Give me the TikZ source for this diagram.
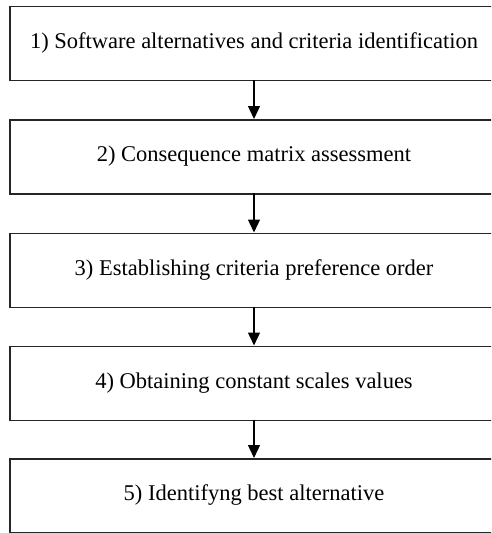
\documentclass[tikz,border=0pt]{standalone}
\usepackage{fontspec}
\setmainfont{Liberation Serif}
\usetikzlibrary{arrows.meta}
\begin{document}
\begin{tikzpicture}[x=1pt,y=-1pt,
  stepbox/.style={draw=black!85, line width=1.8pt, minimum width=490pt, minimum height=74pt, anchor=north west, inner sep=0pt},
  steptext/.style={font=\fontsize{22.5}{24}\selectfont},
  conn/.style={line width=1.3pt, -{Triangle[width=12pt,length=13pt]}}]
\useasboundingbox (0,0) rectangle (491,533);
\begin{scope}
\clip (0,0) rectangle (491,533);
\node[stepbox] (s1) at (9,5.5) {};
\node[stepbox] (s2) at (9,119) {};
\node[stepbox] (s3) at (9,232.5) {};
\node[stepbox] (s4) at (9,345.5) {};
\node[stepbox] (s5) at (9,458) {};
\end{scope}
\node[steptext] (t1) at (254,43) {1) Software alternatives and criteria identification};
\node[steptext] (t2) at (254,156.5) {2) Consequence matrix assessment};
\node[steptext] (t3) at (254,270) {3) Establishing criteria preference order};
\node[steptext] (t4) at (254,383) {4) Obtaining constant scales values};
\node[steptext] (t5) at (254,495.5) {5) Identifyng best alternative};
\coordinate (a1) at (254,79.5);
\coordinate (b1) at (254,119);
\coordinate (a2) at (254,193);
\coordinate (b2) at (254,232.5);
\coordinate (a3) at (254,306.5);
\coordinate (b3) at (254,345.5);
\coordinate (a4) at (254,419.5);
\coordinate (b4) at (254,458);
\draw[conn] (a1) -- (b1);
\draw[conn] (a2) -- (b2);
\draw[conn] (a3) -- (b3);
\draw[conn] (a4) -- (b4);
\end{tikzpicture}
\end{document}
